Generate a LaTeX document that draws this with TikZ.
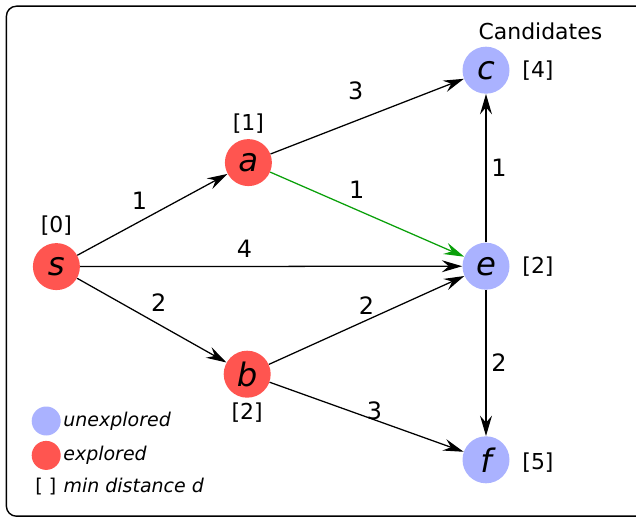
\documentclass[tikz,border=0pt]{standalone}
\usepackage{fontspec}
\setmainfont{DejaVu Sans}
\usetikzlibrary{arrows.meta,positioning}
\definecolor{explred}{RGB}{255,85,80}
\definecolor{candblue}{RGB}{170,178,255}
\definecolor{pathgreen}{RGB}{10,160,10}

\begin{document}
\begin{tikzpicture}[
  expl/.style={circle, fill=explred, minimum size=1.175cm, inner sep=0pt, font=\fontsize{23}{27}\selectfont\itshape},
  cand/.style={circle, fill=candblue, minimum size=1.175cm, inner sep=0pt, font=\fontsize{23}{27}\selectfont\itshape},
  lbl/.style={font=\fontsize{15.6}{18}\selectfont},
  rlbl/.style={lbl, xshift=5.5pt},
  wt/.style={font=\fontsize{17}{20}\selectfont},
  arr/.style={-{Stealth[length=14.5pt, width=8.5pt, inset=5pt]}, line width=0.9pt},
  legtxt/.style={font=\fontsize{13.5}{16}\selectfont\itshape, inner xsep=1.5pt}
]
\useasboundingbox (0,0) rectangle (15.9,12.925);
\draw[rounded corners=0.25cm, line width=1pt] (0.16,0.02) rectangle (16.4,12.77);

% graph
\node[expl, label={[lbl, yshift=2pt]above:[0]}] (s) at (1.41,6.26) {s};
\node[expl, label={[lbl]above:[1]}] (a) at (6.21,8.86) {a};
\node[expl, label={[lbl]below:[2]}] (b) at (6.18,3.57) {b};
\node[cand, label={[rlbl]right:[4]}] (c) at (12.15,11.17) {c};
\node[cand, label={[rlbl]right:[2]}] (e) at (12.15,6.27) {e};
\node[cand, label={[rlbl, yshift=-2pt]right:[5]}] (f) at (12.15,1.43) {f};
\node[lbl] (cands) at (13.51,12.15) {Candidates};

\draw[arr] (s) -- node[midway, above left, wt]{1} (a);
\draw[arr] (s) -- node[pos=0.43, above=2.5pt, wt]{4} (e);
\draw[arr] (s) -- node[pos=0.46, above right, wt]{2} (b);
\draw[arr] (a) -- node[pos=0.44, above=11pt, wt]{3} (c);
\draw[arr, pathgreen] (a) -- node[pos=0.38, above right, wt, black]{1} (e);
\draw[arr] (b) -- node[midway, above, wt]{2} (e);
\draw[arr] (b) -- node[pos=0.54, above=-4pt, wt]{3} (f);
\draw[arr] (e) -- node[midway, right, wt]{1} (c);
\draw[arr] (e) -- node[midway, right, wt]{2} (f);

% legend
\node[circle, fill=candblue, minimum size=0.725cm, inner sep=0pt] (lu) at (1.155,2.4) {};
\node[circle, fill=explred, minimum size=0.725cm, inner sep=0pt] (le) at (1.155,1.54) {};
\node[font=\fontsize{13.5}{16}\selectfont] (lb) at (1.145,0.75) {[ ]};
\node[legtxt, anchor=west] (tu) at (lu.east) {unexplored};
\node[legtxt, anchor=west] (te) at (le.east) {explored};
\node[legtxt, anchor=base west] (tb) at (lb.base east) {min distance d};
\end{tikzpicture}
\end{document}
